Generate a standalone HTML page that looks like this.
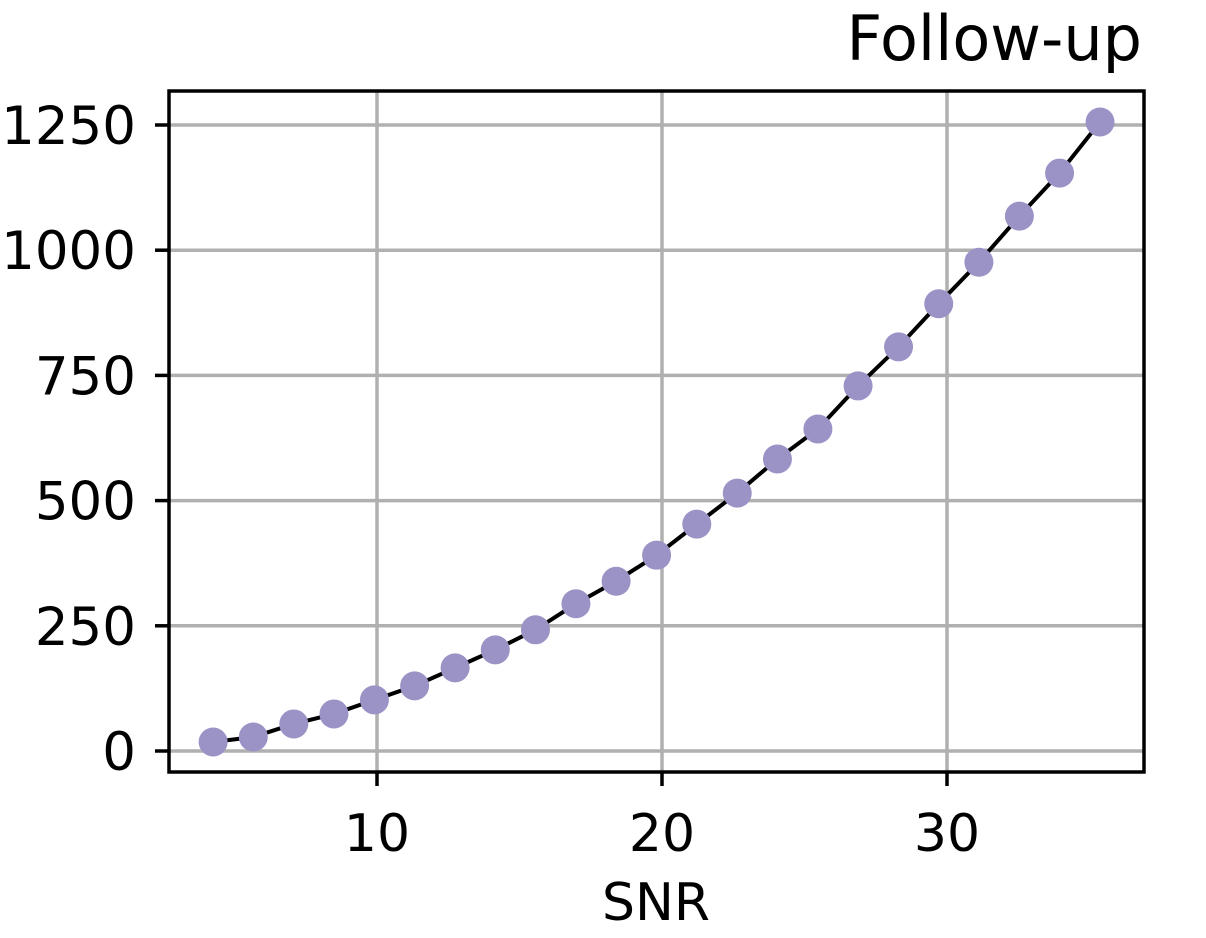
<!DOCTYPE html>
<html><head><meta charset="utf-8"><style>
html,body{margin:0;padding:0;background:#fff;}
svg{display:block;font-family:"DejaVu Sans","Liberation Sans",sans-serif;}
</style></head><body>
<svg id="chart" width="1206" height="938" viewBox="0 0 1206 938">
<g id="grid"></g>
<g id="series"></g>
<rect x="169" y="91" width="975" height="681" fill="none" stroke="#000" stroke-width="3.5"/>
<g id="ticks"></g>
<text x="1142" y="60" font-size="62" text-anchor="end">Follow-up</text>
<text x="656" y="920" font-size="52" text-anchor="middle">SNR</text>
</svg>
<script>
const xValues = [4.25,5.66,7.08,8.49,9.91,11.32,12.74,14.15,15.56,16.98,18.39,19.81,21.22,22.64,24.05,25.47,26.88,28.30,29.71,31.12,32.54,33.95,35.37];
const yValues = [18,28,54,74,102,130,166,202,242,294,339,391,453,515,583,643,729,807,893,976,1068,1154,1256];
const xTicks = [10,20,30];
const yTicks = [0,250,500,750,1000,1250];
const NS = "http://www.w3.org/2000/svg";
const X = v => 377 + (v - 10) * 28.5;
const Y = v => 751 - v * 0.5008;
const grid = document.getElementById('grid');
const ticks = document.getElementById('ticks');
const series = document.getElementById('series');
function mk(tag, attrs, parent){const e=document.createElementNS(NS,tag);for(const k in attrs)e.setAttribute(k,attrs[k]);parent.appendChild(e);return e;}
xTicks.forEach(t=>{
  const l=mk('line',{x1:X(t),x2:X(t),y1:91,y2:772,stroke:'#b0b0b0','stroke-width':3.5},grid);
  
  
  const tk=mk('line',{x1:X(t),x2:X(t),y1:772,y2:786,stroke:'#000','stroke-width':3.5},ticks);
  
  
  const tx=mk('text',{x:X(t),y:851,'font-size':52,'text-anchor':'middle'},ticks);
  tx.textContent=t;
  
  
});
yTicks.forEach(t=>{
  const l=mk('line',{x1:169,x2:1144,y1:Y(t),y2:Y(t),stroke:'#b0b0b0','stroke-width':3.5},grid);
  
  
  const tk=mk('line',{x1:155,x2:169,y1:Y(t),y2:Y(t),stroke:'#000','stroke-width':3.5},ticks);
  
  
  const tx=mk('text',{x:136,y:Y(t)+19,'font-size':53,'text-anchor':'end'},ticks);
  tx.textContent=t;
  
  
});
const pts=xValues.map((x,i)=>X(x)+','+Y(yValues[i])).join(' ');
const line=mk('polyline',{points:pts,fill:'none',stroke:'#000','stroke-width':4},series);


xValues.forEach((x,i)=>{
  const c=mk('circle',{cx:X(x),cy:Y(yValues[i]),r:14.5,fill:'#9b93c6'},series);
  
  
});
</script>
</body></html>
